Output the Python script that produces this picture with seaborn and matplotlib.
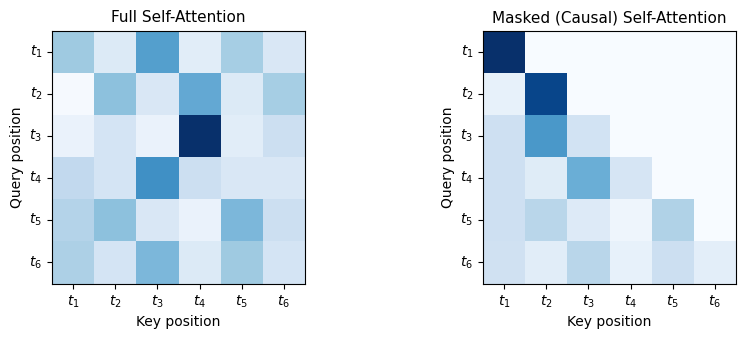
import numpy as np
import pandas as pd
import matplotlib
matplotlib.use("Agg")
import matplotlib.pyplot as plt
import seaborn as sns

tokens = [r"$t_1$", r"$t_2$", r"$t_3$", r"$t_4$", r"$t_5$", r"$t_6$"]

full_t1 = [0.21, 0.10, 0.30, 0.09, 0.20, 0.11]
full_t2 = [0.045, 0.23, 0.11, 0.28, 0.10, 0.20]
full_t3 = [0.07, 0.12, 0.07, 0.50, 0.09, 0.14]
full_t4 = [0.16, 0.12, 0.33, 0.14, 0.11, 0.11]
full_t5 = [0.18, 0.23, 0.11, 0.07, 0.25, 0.14]
full_t6 = [0.19, 0.12, 0.25, 0.10, 0.21, 0.12]

masked_t1 = [1.00, 0.00, 0.00, 0.00, 0.00, 0.00]
masked_t2 = [0.08, 0.92, 0.00, 0.00, 0.00, 0.00]
masked_t3 = [0.21, 0.60, 0.19, 0.00, 0.00, 0.00]
masked_t4 = [0.21, 0.12, 0.50, 0.17, 0.00, 0.00]
masked_t5 = [0.21, 0.29, 0.13, 0.05, 0.32, 0.00]
masked_t6 = [0.20, 0.11, 0.29, 0.08, 0.22, 0.10]

full = pd.DataFrame([full_t1, full_t2, full_t3, full_t4, full_t5, full_t6],
                    index=tokens, columns=tokens)
masked = pd.DataFrame([masked_t1, masked_t2, masked_t3, masked_t4, masked_t5, masked_t6],
                      index=tokens, columns=tokens)

fig = plt.figure(figsize=(7.46, 3.4), dpi=100)
ax1 = fig.add_axes([52/746, 56/340, 253/746, 254/340])
ax2 = fig.add_axes([483/746, 56/340, 253/746, 254/340])

for ax, df, title, lims in [(ax1, full, "Full Self-Attention", (0.038, 0.50)),
                            (ax2, masked, "Masked (Causal) Self-Attention", (0.0, 1.0))]:
    sns.heatmap(df, ax=ax, cmap="Blues", cbar=False, square=True, linewidths=0,
                vmin=lims[0], vmax=lims[1])
    for s in ax.spines.values():
        s.set_visible(True)
        s.set_color("black")
        s.set_linewidth(0.8)
    ax.set_title(title, fontsize=11)
    ax.set_xlabel("Key position", fontsize=10)
    ax.set_ylabel("Query position", fontsize=10)
    ax.tick_params(axis="both", length=3.5, width=0.8, labelsize=10)
    ax.set_yticklabels(tokens, rotation=0)
    ax.set_xticklabels(tokens, rotation=0)

fig.savefig("out.png", dpi=100)
